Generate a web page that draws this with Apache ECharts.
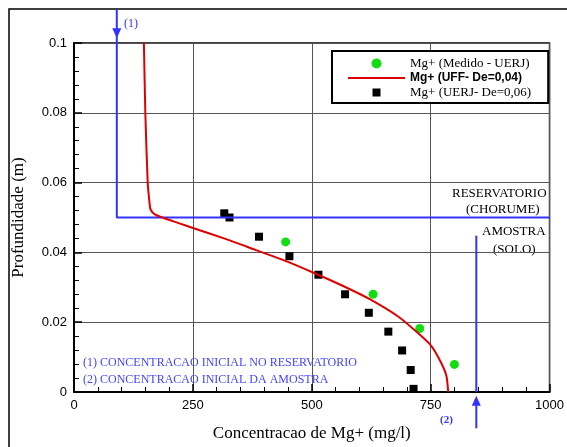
<!DOCTYPE html>
<html>
<head>
<meta charset="utf-8">
<script src="https://cdn.jsdelivr.net/npm/echarts@6/dist/echarts.min.js"></script>
<style>
  html, body { margin: 0; padding: 0; background: #fff; }
  #chart { width: 567px; height: 447px; }
</style>
</head>
<body>
<div id="chart"></div>
<script>
// dados
var xTicks = [0, 250, 500, 750, 1000];
var yTicks = [0, 0.02, 0.04, 0.06, 0.08, 0.1];

// Mg+ (Medido - UERJ)
var medidoX = [445, 629, 727, 800];
var medidoY = [0.0430, 0.0280, 0.0182, 0.0079];

// Mg+ (UFF- De=0,04)
var uffX = [147, 150, 155, 159, 161, 170, 190, 220, 250, 320, 380, 450, 505, 567, 622, 683, 724, 752, 772, 783, 787];
var uffY = [0.1, 0.08, 0.06, 0.054, 0.0523, 0.0509, 0.0498, 0.0484, 0.0470, 0.0438, 0.0408, 0.0373, 0.0341, 0.0303, 0.0266, 0.0215, 0.0168, 0.0131, 0.0084, 0.0047, 0];

// Mg+ (UERJ- De=0,06)
var uerjX = [316, 327, 389, 453, 514, 570, 620, 661, 690, 708, 714];
var uerjY = [0.0512, 0.0500, 0.0445, 0.0389, 0.0336, 0.0280, 0.0227, 0.0173, 0.0119, 0.0063, 0.0009];

// linhas de referencia (1) e (2)
var reservX = [90, 90, 1000];
var reservY = [0.1095, 0.05, 0.05];
var amostraX = [846, 846];
var amostraY = [0.0448, 0];
var arrowStemX = [846, 846];
var arrowStemY = [-0.0104, -0.0035];

function pairs(xs, ys) {
    var out = [];
    for (var i = 0; i < xs.length; i++) {
        out.push([xs[i], ys[i]]);
    }
    return out;
}

var blue = '#3333ff';
var serif = '"Liberation Serif", "DejaVu Serif", serif';
var sans = '"Liberation Sans", Arial, sans-serif';

// icones da legenda (o M inicial fixa a caixa 57x10)
var iconLine = 'path://M0,0M57,10M0,4h57v2h-57z';
var iconSquare = 'path://M0,0M57,10M24.5,1h8v8h-8z';

var chart = echarts.init(document.getElementById('chart'));
chart.setOption({
    animation: false,
    backgroundColor: '#fff',
    grid: {
        left: 74, right: 7, top: 43, bottom: 47,
        show: true, borderColor: '#000', borderWidth: 1.5
    },
    legend: {
        left: 332, top: 51,
        orient: 'vertical',
        padding: [6, 17, 4, 16],
        itemGap: 2,
        itemWidth: 57,
        itemHeight: 10,
        backgroundColor: '#fff',
        borderColor: '#000',
        borderWidth: 2,
        borderRadius: 0,
        data: [
            {name: 'Mg+ (Medido - UERJ)', icon: 'circle'},
            {name: 'Mg+ (UFF- De=0,04)', icon: iconLine},
            {name: 'Mg+ (UERJ- De=0,06)', icon: iconSquare}
        ],
        formatter: function(name) {
            if (name == 'Mg+ (UFF- De=0,04)') {
                return '{b|' + name + '}';
            }
            return '{n|' + name + '}';
        },
        textStyle: {
            rich: {
                n: {fontFamily: serif, fontSize: 13, lineHeight: 10, color: '#000'},
                b: {fontFamily: sans, fontSize: 12, lineHeight: 10, fontWeight: 'bold', color: '#000'}
            }
        }
    },
    xAxis: {
        type: 'value',
        min: 0, max: 1000, interval: 250,
        name: 'Concentracao de Mg+ (mg/l)',
        nameLocation: 'middle',
        nameGap: 33,
        nameTextStyle: {fontFamily: serif, fontSize: 17, color: '#000'},
        axisLine: {lineStyle: {color: '#000', width: 2}},
        axisTick: {inside: true, length: 8, lineStyle: {color: '#000', width: 1.5}},
        minorTick: {show: true, splitNumber: 5, length: 5, lineStyle: {color: '#000', width: 1}},
        axisLabel: {
            fontFamily: sans, fontSize: 13, color: '#000', margin: 7,
            formatter: function(v) { return xTicks.indexOf(v) >= 0 ? String(v) : ''; }
        },
        splitLine: {show: true, lineStyle: {color: '#555', width: 1}}
    },
    yAxis: {
        type: 'value',
        min: 0, max: 0.1, interval: 0.02,
        name: 'Profundidade (m)',
        nameLocation: 'middle',
        nameGap: 47,
        nameTextStyle: {fontFamily: serif, fontSize: 17, color: '#000'},
        axisLine: {lineStyle: {color: '#000', width: 2}},
        axisTick: {inside: true, length: 8, lineStyle: {color: '#000', width: 1.5}},
        minorTick: {show: true, splitNumber: 5, length: 5, lineStyle: {color: '#000', width: 1}},
        axisLabel: {
            fontFamily: sans, fontSize: 13, color: '#000', margin: 7,
            formatter: function(v) {
                var r = Math.round(v * 100) / 100;
                return r === 0 ? '0' : String(r);
            }
        },
        splitLine: {show: true, lineStyle: {color: '#555', width: 1}}
    },
    series: [
        {
            name: 'reserv',
            type: 'line',
            clip: false,
            symbol: 'none',
            silent: true,
            lineStyle: {color: blue, width: 2},
            data: pairs(reservX, reservY)
        },
        {
            name: 'amostra',
            type: 'line',
            clip: false,
            symbol: 'none',
            silent: true,
            lineStyle: {color: blue, width: 2},
            data: pairs(amostraX, amostraY)
        },
        {
            name: 'seta2',
            type: 'line',
            clip: false,
            symbol: 'none',
            silent: true,
            lineStyle: {color: blue, width: 2},
            data: pairs(arrowStemX, arrowStemY)
        },
        {
            name: 'pontas',
            type: 'scatter',
            clip: false,
            silent: true,
            symbol: 'triangle',
            symbolSize: [9, 10],
            itemStyle: {color: blue, opacity: 1},
            data: [
                {value: [reservX[0], 0.1028], symbolRotate: 180},
                {value: [amostraX[0], -0.0025], symbolRotate: 0}
            ]
        },
        {
            name: 'Mg+ (UFF- De=0,04)',
            type: 'line',
            symbol: 'none',
            smooth: 0.2,
            lineStyle: {color: '#dd0000', width: 2},
            itemStyle: {color: '#dd0000'},
            data: pairs(uffX, uffY)
        },
        {
            name: 'Mg+ (UERJ- De=0,06)',
            type: 'scatter',
            symbol: 'rect',
            symbolSize: 8,
            itemStyle: {color: '#000', opacity: 1},
            data: pairs(uerjX, uerjY)
        },
        {
            name: 'Mg+ (Medido - UERJ)',
            type: 'scatter',
            symbol: 'circle',
            symbolSize: 9,
            itemStyle: {color: '#11dd11', opacity: 1},
            data: pairs(medidoX, medidoY)
        }
    ],
    graphic: [
        {type: 'rect', silent: true, shape: {x: 9, y: 9, width: 580, height: 460},
         style: {fill: null, stroke: '#000', lineWidth: 1.5}},
        {type: 'text', left: 124, top: 18, style: {text: '(1)', font: '12px ' + serif, fill: blue}},
        {type: 'text', left: 440, top: 415, style: {text: '(2)', font: 'bold 11px ' + serif, fill: blue}},
        {type: 'text', left: 452, top: 187, style: {text: 'RESERVATORIO', font: '13px ' + serif, fill: '#000'}},
        {type: 'text', left: 466, top: 203, style: {text: '(CHORUME)', font: '13px ' + serif, fill: '#000'}},
        {type: 'text', left: 482, top: 225, style: {text: 'AMOSTRA', font: '13px ' + serif, fill: '#000'}},
        {type: 'text', left: 493, top: 243, style: {text: '(SOLO)', font: '13px ' + serif, fill: '#000'}},
        {type: 'text', left: 83, top: 357, style: {text: '(1) CONCENTRACAO INICIAL NO RESERVATORIO', font: '12px ' + serif, fill: '#4444ff'}},
        {type: 'text', left: 83, top: 374, style: {text: '(2) CONCENTRACAO INICIAL DA AMOSTRA', font: '12px ' + serif, fill: '#4444ff'}}
    ]
});
</script>
</body>
</html>
